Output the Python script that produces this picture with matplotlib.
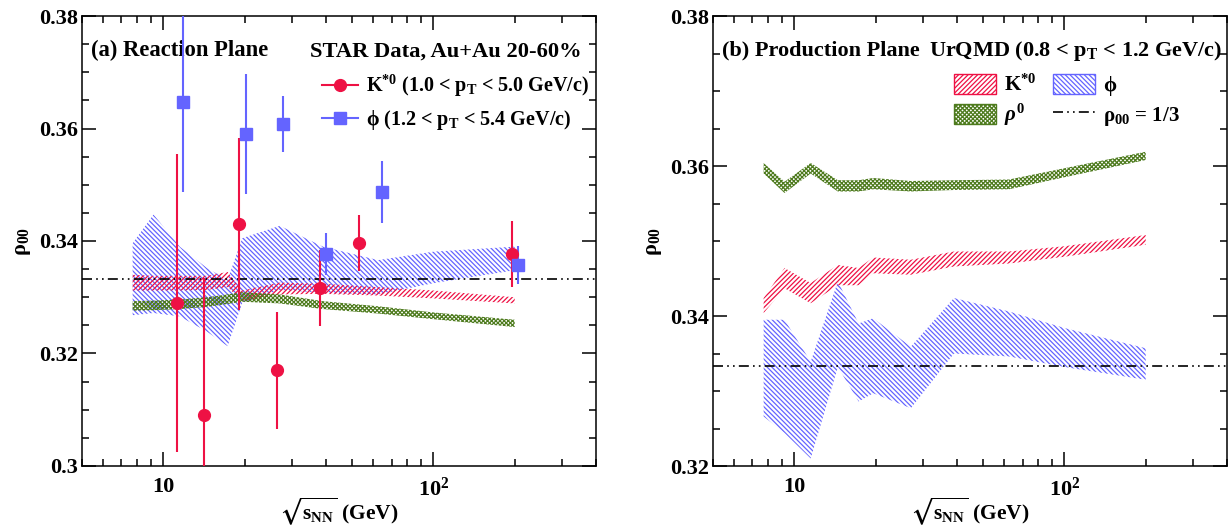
import numpy as np
import matplotlib
matplotlib.use('Agg')
from matplotlib import pyplot as plt
from matplotlib.lines import Line2D
from matplotlib.patches import Patch

# STAR data points (sqrt(s_NN) in GeV), rho00 with total errors
energy_kstar = [11.5, 14.5, 19.6, 27, 39, 54.4, 200]
rho_kstar = [0.329, 0.309, 0.343, 0.317, 0.3316, 0.3397, 0.3377]
err_kstar = [0.0265, 0.0245, 0.0153, 0.0104, 0.0068, 0.0050, 0.0058]

energy_phi = [11.5, 19.6, 27, 39, 62.4, 200]
rho_phi = [0.3648, 0.359, 0.3608, 0.3377, 0.3487, 0.3357]
err_phi = [0.0161, 0.0107, 0.0049, 0.0038, 0.0055, 0.0034]

# UrQMD bands
energy_urqmd = [7.7, 9.2, 11.5, 14.5, 17.3, 19.6, 27, 39, 62.4, 100, 200]

# (a) reaction plane
rp_kstar_hi = [0.3340, 0.3338, 0.3338, 0.3338, 0.3345, 0.3312, 0.3326, 0.3324, 0.3318, 0.3312, 0.3300]
rp_kstar_lo = [0.3312, 0.3312, 0.3312, 0.3313, 0.3318, 0.3293, 0.3305, 0.3306, 0.3303, 0.3298, 0.3289]
rp_phi_hi = [0.3396, 0.3447, 0.3390, 0.3352, 0.3331, 0.3405, 0.3427, 0.3390, 0.3366, 0.3381, 0.3390]
rp_phi_lo = [0.3268, 0.3272, 0.3266, 0.3239, 0.3213, 0.3290, 0.3313, 0.3308, 0.3305, 0.3325, 0.3348]
rp_rho_hi = [0.3293, 0.3294, 0.3296, 0.3300, 0.3305, 0.3309, 0.3305, 0.3293, 0.3284, 0.3273, 0.3260]
rp_rho_lo = [0.3276, 0.3277, 0.3279, 0.3283, 0.3288, 0.3292, 0.3289, 0.3279, 0.3271, 0.3261, 0.3247]

# (b) production plane
pp_kstar_hi = [0.3424, 0.3464, 0.3444, 0.3468, 0.3464, 0.3478, 0.3475, 0.3486, 0.3486, 0.3493, 0.3508]
pp_kstar_lo = [0.3404, 0.3437, 0.3417, 0.3441, 0.3441, 0.3457, 0.3455, 0.3466, 0.3470, 0.3479, 0.3495]
pp_phi_hi = [0.3395, 0.3395, 0.3339, 0.3446, 0.3390, 0.3397, 0.3359, 0.3424, 0.3406, 0.3384, 0.3357]
pp_phi_lo = [0.3266, 0.3244, 0.3210, 0.3332, 0.3286, 0.3297, 0.3277, 0.3350, 0.3346, 0.3332, 0.3315]
pp_rho_hi = [0.3604, 0.3579, 0.3604, 0.3581, 0.3581, 0.3584, 0.3580, 0.3581, 0.3582, 0.3597, 0.3619]
pp_rho_lo = [0.3590, 0.3564, 0.3590, 0.3566, 0.3566, 0.3569, 0.3566, 0.3568, 0.3569, 0.3585, 0.3608]

RED = '#ee1144'
BLUE = '#6464ff'
GREEN = '#4e7b1e'

HATCH_RED = '/' * 7
HATCH_BLUE = '\\' * 7
HATCH_GREEN = 'x' * 8

plt.rcParams['font.family'] = 'Liberation Serif'
plt.rcParams['font.weight'] = 'bold'
plt.rcParams['axes.labelweight'] = 'bold'
plt.rcParams['mathtext.fontset'] = 'custom'
plt.rcParams['mathtext.rm'] = 'Liberation Serif:bold'
plt.rcParams['mathtext.bf'] = 'Liberation Serif:bold'
plt.rcParams['mathtext.it'] = 'Liberation Serif:italic:bold'
plt.rcParams['mathtext.default'] = 'rm'
plt.rcParams['mathtext.fallback'] = 'stix'
plt.rcParams['hatch.linewidth'] = 0.9

DASHDOT = (0, (6, 2.5, 1, 2.5, 1, 2.5))


def band(ax, hi, lo, color, hatch):
    ax.fill_between(energy_urqmd, lo, hi, facecolor='none', edgecolor=color,
                    hatch=hatch, linewidth=0, zorder=2)


def style_axes(ax, ylo, yticks, ylabels):
    ax.set_xscale('log')
    ax.set_xlim(5, 400)
    ax.set_ylim(ylo, 0.38)
    ax.set_xticks([10, 100], ['10', '$10^{2}$'])
    ax.set_yticks(yticks, ylabels)
    ax.yaxis.set_minor_locator(matplotlib.ticker.MultipleLocator(0.005))
    ax.tick_params(which='both', direction='in', top=True, right=True, width=1.1)
    ax.tick_params(which='major', length=10, labelsize=16)
    ax.tick_params(axis='x', which='major', pad=8)
    ax.tick_params(axis='y', which='major', pad=3)
    ax.tick_params(which='minor', length=5)
    ax.xaxis.set_minor_formatter(matplotlib.ticker.NullFormatter())
    for s in ax.spines.values():
        s.set_linewidth(1.1)
    ax.set_xlabel(r'$\sqrt{s_{NN}}$ (GeV)', fontsize=15.5, fontweight='bold')
    ax.xaxis.set_label_coords(0.5, -0.066)
    ax.set_ylabel(r'$\rho_{00}$', fontsize=16)
    ax.yaxis.set_label_coords(-0.095, 0.5)
    ax.axhline(1 / 3, color='black', lw=1.2, linestyle=DASHDOT, zorder=3)


fig = plt.figure(figsize=(12.32, 5.27), dpi=100)
ax1 = fig.add_axes([82 / 1232, 61 / 527, 514 / 1232, 450 / 527])
ax2 = fig.add_axes([713 / 1232, 61 / 527, 514 / 1232, 450 / 527])

# ---- (a) reaction plane ----
band(ax1, rp_phi_hi, rp_phi_lo, BLUE, HATCH_BLUE)
band(ax1, rp_kstar_hi, rp_kstar_lo, RED, HATCH_RED)
band(ax1, rp_rho_hi, rp_rho_lo, GREEN, HATCH_GREEN)
style_axes(ax1, 0.30, [0.30, 0.32, 0.34, 0.36, 0.38], ['0.3', '0.32', '0.34', '0.36', '0.38'])

ax1.errorbar(np.array(energy_kstar) * 0.975, rho_kstar, yerr=err_kstar, fmt='o', color=RED,
             ms=8.5, elinewidth=1.5, capsize=0, zorder=5)
ax1.errorbar(np.array(energy_phi) * 1.03, rho_phi, yerr=err_phi, fmt='s', color=BLUE,
             ms=8.5, elinewidth=1.5, capsize=0, zorder=5)

ax1.text(0.017, 0.924, '(a) Reaction Plane', transform=ax1.transAxes, fontsize=16.3,
         ha='left', va='center')
ax1.text(0.972, 0.92, 'STAR Data, Au+Au 20-60%', transform=ax1.transAxes, fontsize=16.2,
         ha='right', va='center')
h1 = [Line2D([], [], color=RED, marker='o', ms=8.5, lw=1.5),
      Line2D([], [], color=BLUE, marker='s', ms=8.5, lw=1.5)]
l1 = [r'$K^{*0}$ (1.0 < $p_{T}$ < 5.0 GeV/c)', r'$\phi$ (1.2 < $p_{T}$ < 5.4 GeV/c)']
ax1.legend(h1, l1, loc='upper left', bbox_to_anchor=(0.466, 0.874), frameon=False,
           fontsize=14.5, handlelength=1.8, handletextpad=0.4, borderpad=0,
           borderaxespad=0, labelspacing=0.45)

# ---- (b) production plane ----
band(ax2, pp_phi_hi, pp_phi_lo, BLUE, HATCH_BLUE)
band(ax2, pp_kstar_hi, pp_kstar_lo, RED, HATCH_RED)
band(ax2, pp_rho_hi, pp_rho_lo, GREEN, HATCH_GREEN)
style_axes(ax2, 0.32, [0.32, 0.34, 0.36, 0.38], ['0.32', '0.34', '0.36', '0.38'])

ax2.text(0.017, 0.923, '(b) Production Plane', transform=ax2.transAxes, fontsize=16,
         ha='left', va='center')
ax2.text(0.99, 0.923, r'UrQMD (0.8 < $p_{T}$ < 1.2 GeV/c)', transform=ax2.transAxes,
         fontsize=16, ha='right', va='center')
h2 = [Patch(facecolor='white', edgecolor=RED, hatch=HATCH_RED, lw=1),
      Patch(facecolor='white', edgecolor=GREEN, hatch=HATCH_GREEN, lw=1),
      Patch(facecolor='white', edgecolor=BLUE, hatch=HATCH_BLUE, lw=1),
      Line2D([], [], color='black', lw=1.2, linestyle=DASHDOT)]
l2 = [r'$K^{*0}$', r'$\mathit{\rho}^{0}$', r'$\phi$', r'$\rho_{00}$ = 1/3']
ax2.legend(h2, l2, loc='upper left', bbox_to_anchor=(0.469, 0.872), frameon=False,
           fontsize=15, ncol=2, handlelength=2.0, handleheight=1.1, handletextpad=0.4,
           columnspacing=0.8, borderpad=0, borderaxespad=0, labelspacing=0.3)

plt.savefig('out.png', dpi=100)
